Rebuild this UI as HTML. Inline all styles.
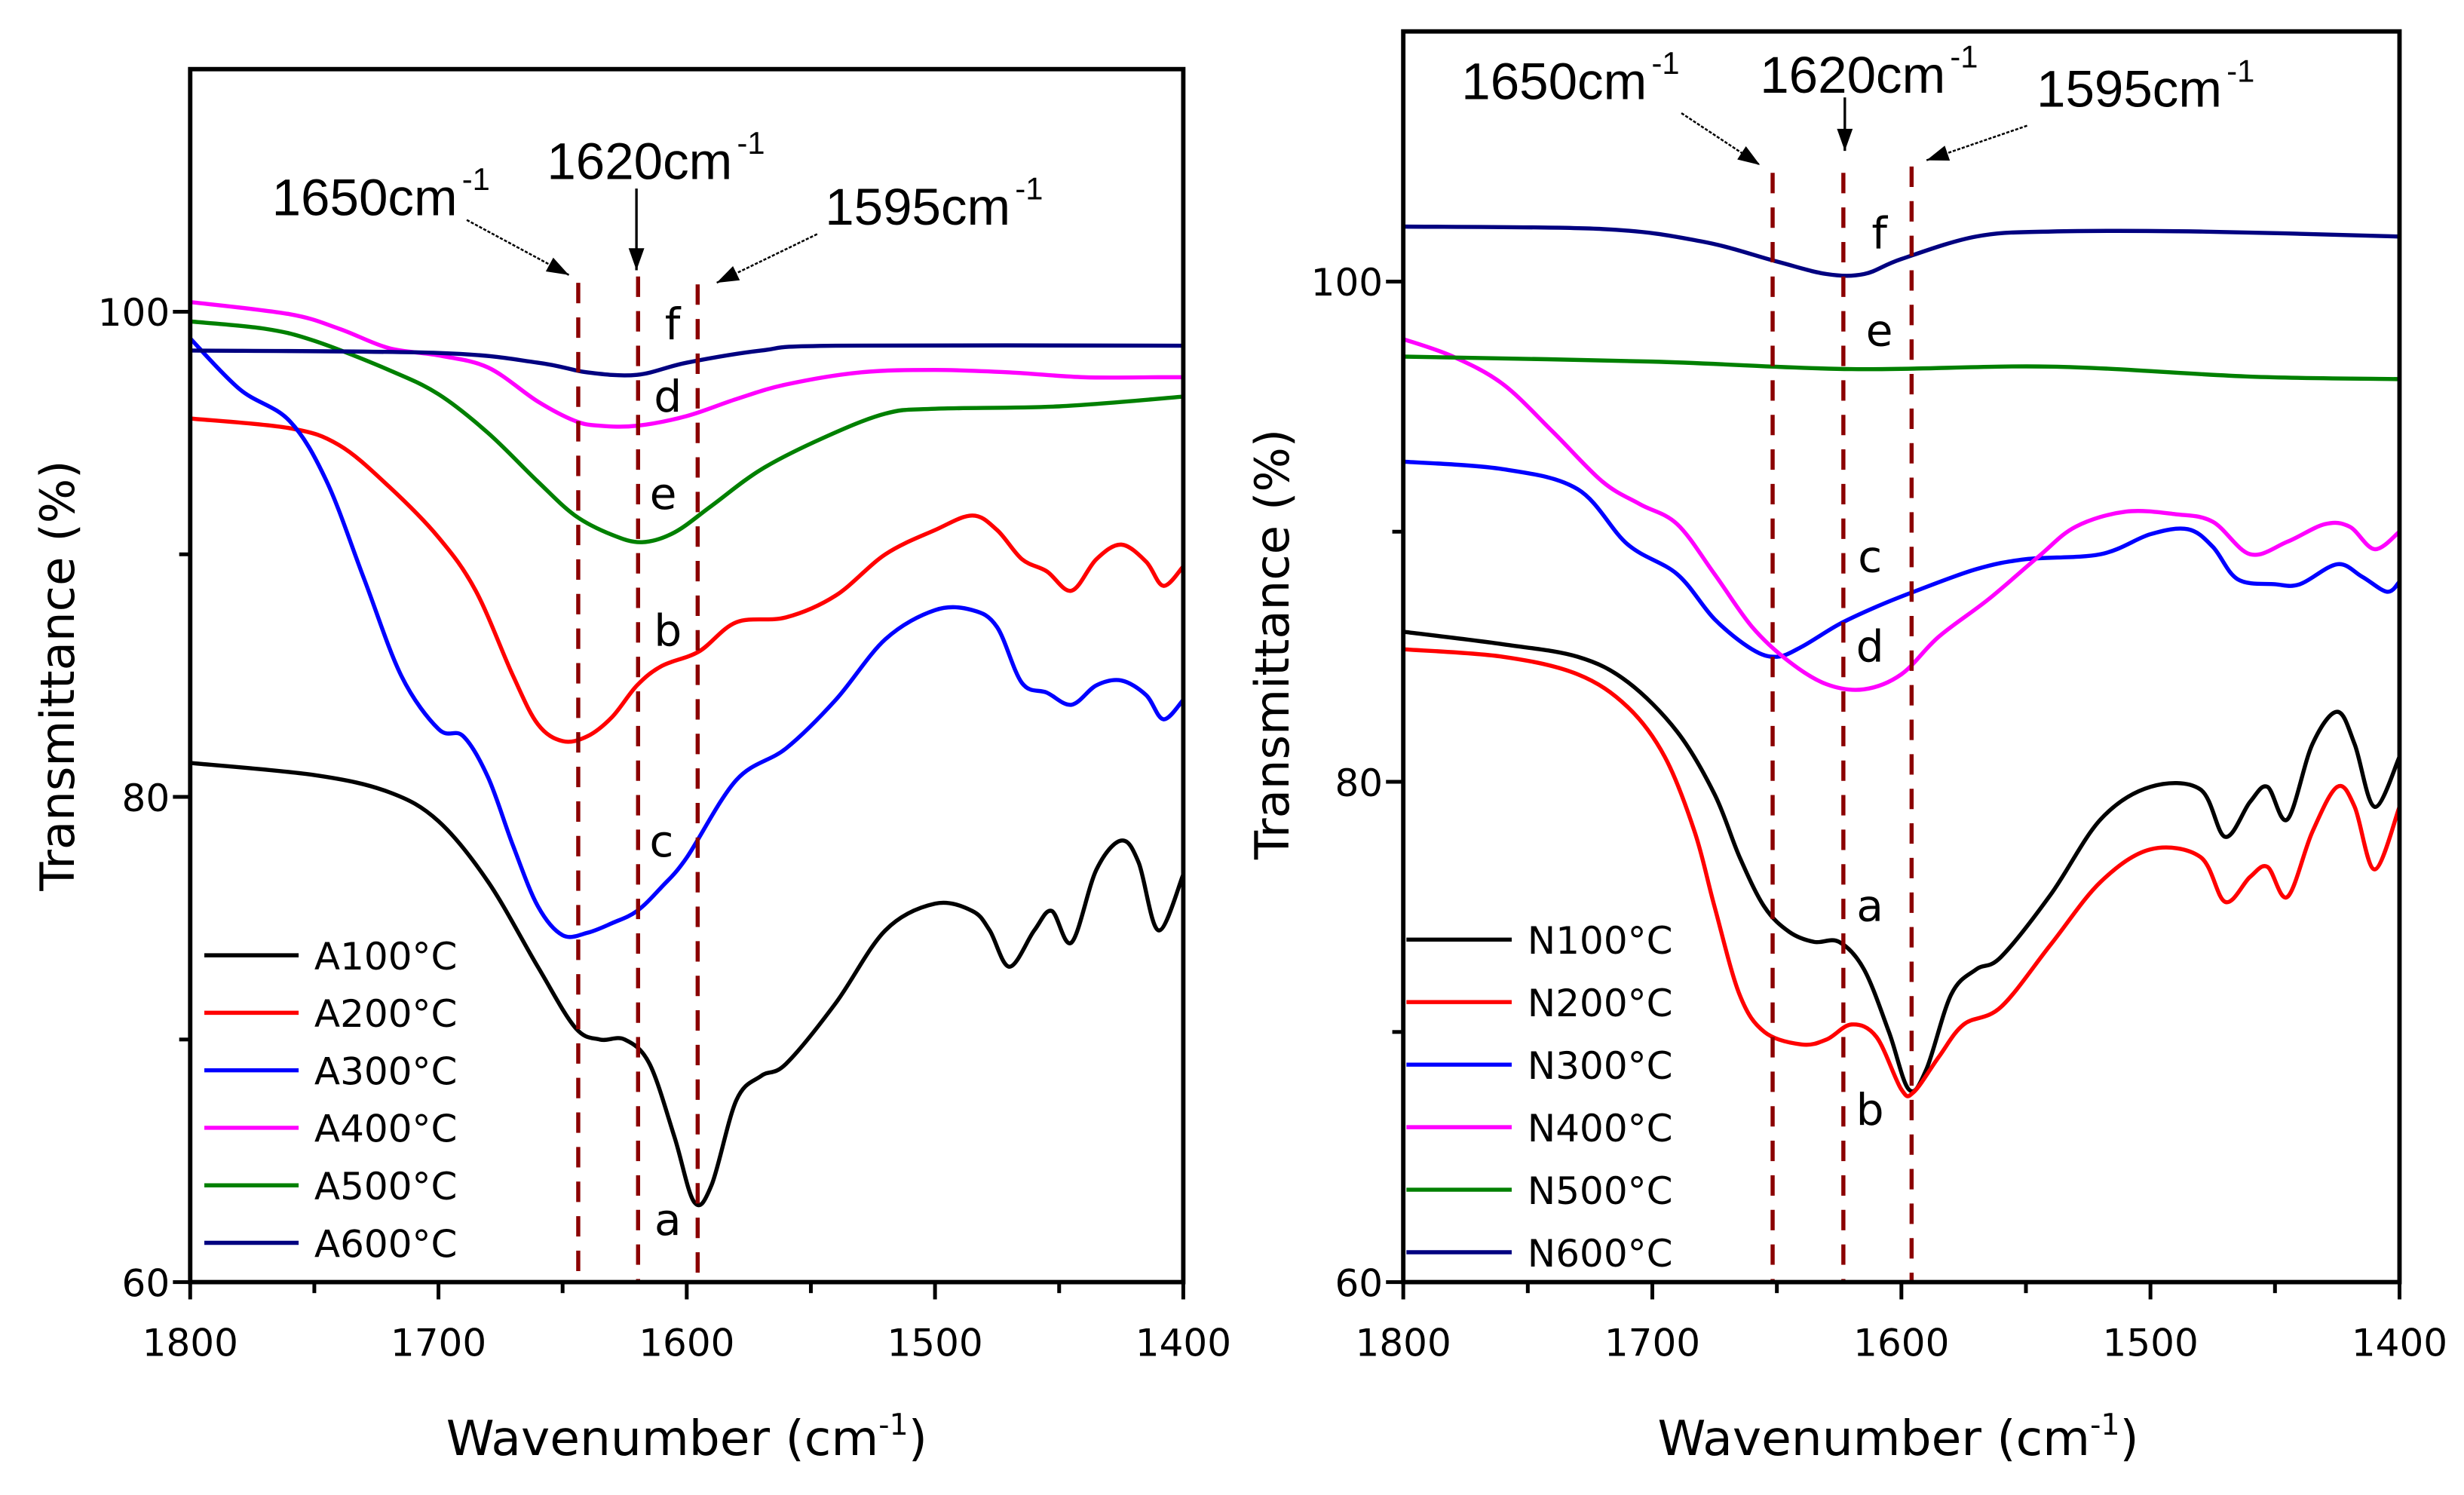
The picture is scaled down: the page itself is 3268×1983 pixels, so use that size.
<!DOCTYPE html>
<html><head><meta charset="utf-8"><style>
html,body{margin:0;padding:0;background:#fff;}
svg{display:block;font-family:"DejaVu Sans","Liberation Sans",sans-serif;}
</style></head><body>
<svg id="chart" xmlns="http://www.w3.org/2000/svg" width="3268" height="1983" viewBox="0 0 1568 951.5">
<rect width="1568" height="951.5" fill="#fff"/>
</svg>
<script>
const xTicks = [1800, 1700, 1600, 1500, 1400];
const yTicks = [60, 80, 100];
const seriesColors = ['#000000', '#ff0000', '#0000ff', '#ff00ff', '#008000', '#000080'];

const aNames = ['A100°C','A200°C','A300°C','A400°C','A500°C','A600°C'];
const aX100 = [1800,1750,1720,1700,1680,1660,1645,1635,1625,1615,1605,1597,1590,1580,1570,1560,1540,1520,1500,1485,1478,1470,1460,1453,1445,1435,1425,1418,1410,1400];
const aY100 = [81.4,80.9,80.2,79,76.5,73,70.5,70.0,70,69,66,63.3,64,67.5,68.5,69,71.5,74.5,75.6,75.3,74.5,73,74.5,75.3,74,77,78.2,77.3,74.5,76.8];
const aX200 = [1800,1760,1740,1720,1700,1685,1670,1660,1650,1640,1630,1620,1610,1595,1580,1560,1540,1520,1500,1485,1475,1465,1455,1445,1435,1425,1415,1408,1400];
const aY200 = [95.6,95.2,94.5,92.8,90.7,88.5,85,83,82.3,82.5,83.3,84.6,85.4,86,87.2,87.4,88.3,90,91,91.6,91,89.8,89.3,88.5,89.8,90.4,89.7,88.7,89.5];
const aX300 = [1800,1780,1760,1745,1730,1715,1700,1690,1680,1670,1660,1650,1640,1630,1620,1610,1600,1580,1560,1540,1520,1500,1485,1475,1465,1455,1445,1435,1425,1415,1408,1400];
const aY300 = [98.9,96.8,95.5,93,89,85,82.8,82.5,80.8,78,75.5,74.3,74.4,74.8,75.3,76.3,77.5,80.7,82,84,86.5,87.7,87.7,87,84.7,84.3,83.8,84.6,84.8,84.2,83.2,84];
const aX400 = [1800,1760,1740,1720,1700,1680,1660,1645,1635,1620,1600,1580,1560,1530,1500,1470,1440,1410,1400];
const aY400 = [100.4,99.9,99.3,98.5,98.2,97.7,96.3,95.5,95.3,95.3,95.7,96.4,97,97.5,97.6,97.5,97.3,97.3,97.3];
const aX500 = [1800,1770,1750,1720,1700,1680,1660,1645,1630,1618,1605,1590,1570,1545,1520,1500,1450,1400];
const aY500 = [99.6,99.3,98.8,97.6,96.6,95,93,91.6,90.8,90.5,90.9,92,93.5,94.8,95.8,96,96.1,96.5];
const aX600 = [1800,1700,1660,1640,1620,1600,1570,1540,1400];
const aY600 = [98.4,98.3,97.9,97.5,97.4,97.9,98.4,98.6,98.6];

const nNames = ['N100°C','N200°C','N300°C','N400°C','N500°C','N600°C'];
const nX100 = [1800,1760,1730,1710,1690,1675,1665,1655,1645,1635,1625,1615,1605,1597,1590,1580,1570,1560,1540,1520,1500,1480,1470,1460,1453,1445,1435,1425,1418,1410,1400];
const nY100 = [86.0,85.5,85.0,84,82,79.5,77,75,74,73.6,73.6,72.5,70,67.7,68.5,71.5,72.5,73,75.5,78.5,79.8,79.7,77.8,79.2,79.8,78.5,81.5,82.8,81.5,79,81];
const nX200 = [1800,1760,1730,1710,1695,1683,1675,1665,1655,1640,1630,1620,1610,1600,1595,1585,1575,1560,1540,1520,1500,1480,1470,1460,1453,1445,1435,1425,1418,1410,1400];
const nY200 = [85.3,85,84.3,83,81,78,75,71.5,70,69.5,69.7,70.3,69.8,67.7,67.6,69,70.3,71,73.5,76,77.3,77,75.2,76.2,76.6,75.4,78,79.8,79,76.5,79];
const nX300 = [1800,1760,1730,1710,1690,1675,1660,1650,1640,1625,1610,1595,1570,1550,1520,1500,1485,1475,1465,1450,1440,1425,1415,1405,1400];
const nY300 = [92.8,92.5,91.7,89.5,88.3,86.5,85.3,85.0,85.4,86.3,87,87.6,88.5,88.9,89.1,89.9,90.1,89.4,88.1,87.9,87.9,88.7,88.2,87.6,88];
const nX400 = [1800,1780,1760,1740,1720,1705,1690,1675,1660,1645,1630,1615,1600,1585,1565,1545,1530,1510,1490,1475,1460,1445,1430,1420,1410,1400];
const nY400 = [97.7,97,95.9,94,92,91.1,90.3,88.3,86.2,84.8,83.9,83.7,84.3,85.8,87.3,89,90.2,90.8,90.7,90.4,89.1,89.6,90.3,90.2,89.3,90];
const nX500 = [1800,1700,1620,1540,1460,1400];
const nY500 = [97.0,96.8,96.5,96.6,96.2,96.1];
const nX600 = [1800,1720,1680,1650,1630,1615,1600,1570,1540,1480,1400];
const nY600 = [102.2,102.1,101.6,100.8,100.3,100.3,100.9,101.8,102.0,102.0,101.8];

const aMarkers = [1643.7, 1619.6, 1595.6];
const nMarkers = [1651.7, 1623.3, 1595.9];
const markerLabels = ['1650cm', '1620cm', '1595cm'];

const NS = 'http://www.w3.org/2000/svg';
const svg = document.getElementById('chart');
function mk(tag, attrs, parent) {
  const e = document.createElementNS(NS, tag);
  for (const k in attrs) e.setAttribute(k, attrs[k]);
  (parent || svg).appendChild(e);
  return e;
}
function smooth(pts) {
  let d = 'M' + pts[0][0].toFixed(2) + ',' + pts[0][1].toFixed(2);
  for (let i = 0; i < pts.length - 1; i++) {
    const p0 = pts[i - 1] || pts[i], p1 = pts[i], p2 = pts[i + 1], p3 = pts[i + 2] || p2;
    const c1x = p1[0] + (p2[0] - p0[0]) / 6, c1y = p1[1] + (p2[1] - p0[1]) / 6;
    const c2x = p2[0] - (p3[0] - p1[0]) / 6, c2y = p2[1] - (p3[1] - p1[1]) / 6;
    d += 'C' + c1x.toFixed(2) + ',' + c1y.toFixed(2) + ' ' + c2x.toFixed(2) + ',' + c2y.toFixed(2) + ' ' + p2[0].toFixed(2) + ',' + p2[1].toFixed(2);
  }
  return d;
}

function panel(cfg) {
  const g = mk('g', {});
  
  
  const sx = v => cfg.x0 + (1800 - v) / 400 * (cfg.x1 - cfg.x0);
  const sy = v => cfg.yb - (v - 60) / 50 * (cfg.yb - cfg.yt);
  cfg.xs.forEach((xs, i) => {
    const pts = xs.map((x, j) => [sx(x), sy(cfg.ys[i][j])]);
    const p = mk('path', {d: smooth(pts), fill: 'none', stroke: seriesColors[i], 'stroke-width': 2.6}, g);
    
    
  });
  cfg.markers.forEach((m, i) => {
    const l = mk('line', {x1: sx(m), x2: sx(m), y1: cfg.dashTop[i], y2: cfg.yb, stroke: '#8b0000', 'stroke-width': 2.6, 'stroke-dasharray': '13,9'}, g);
    
    
  });
  const fr = mk('rect', {x: cfg.x0, y: cfg.yt, width: cfg.x1 - cfg.x0, height: cfg.yb - cfg.yt, fill: 'none', stroke: '#000', 'stroke-width': 2.8}, g);
  
  
  for (let v = 1800; v >= 1400; v -= 50) {
    const major = v % 100 === 0;
    mk('line', {x1: sx(v), x2: sx(v), y1: cfg.yb, y2: cfg.yb + (major ? 11 : 7), stroke: '#000', 'stroke-width': 2.4}, g);
  }
  xTicks.forEach(v => {
    const t = mk('text', {x: sx(v), y: cfg.yb + 47, 'font-size': 24, 'text-anchor': 'middle', fill: '#000'}, g);
    t.textContent = v;
    
    
  });
  for (let v = 60; v <= 100; v += 10) {
    mk('line', {x1: cfg.x0, x2: cfg.x0 - (v % 20 === 0 ? 11 : 7), y1: sy(v), y2: sy(v), stroke: '#000', 'stroke-width': 2.4}, g);
  }
  yTicks.forEach(v => {
    const t = mk('text', {x: cfg.x0 - 13, y: sy(v) + 9, 'font-size': 24, 'text-anchor': 'end', fill: '#000'}, g);
    t.textContent = v;
    
    
  });
  const yt = mk('text', {x: 0, y: 0, 'font-size': 30, 'text-anchor': 'middle', transform: 'translate(' + cfg.ytx + ',' + cfg.yty + ') rotate(-90)'}, g);
  yt.textContent = 'Transmittance (%)';
  
  
  const xt = mk('text', {x: cfg.xtx, y: 926, 'font-size': 31, 'text-anchor': 'middle'}, g);
  xt.innerHTML = 'Wavenumber (cm<tspan dy="-13" font-size="19">-1</tspan><tspan dy="13">)</tspan>';
  
  
  cfg.ann.forEach((a, i) => {
    const t = mk('text', {x: a[0], y: a[1], 'font-size': 33, fill: '#000', textLength: 118, lengthAdjust: 'spacingAndGlyphs', 'font-family': 'Liberation Sans, sans-serif'}, g);
    t.textContent = markerLabels[i];
    
    
    const s = mk('text', {x: a[0] + 121, y: a[1] - 16, 'font-size': 20, 'font-family': 'Liberation Sans, sans-serif'}, g);
    s.textContent = '-1';
    const ar = cfg.arrows[i];
    mk('line', {x1: ar[0], y1: ar[1], x2: ar[2], y2: ar[3], stroke: '#000', 'stroke-width': i === 1 ? 1.6 : 1.2, 'stroke-dasharray': i === 1 ? '' : '2,1'}, g);
    const ang = Math.atan2(ar[3] - ar[1], ar[2] - ar[0]);
    const L = 14, W = 5;
    const bx = ar[2] - L * Math.cos(ang), by = ar[3] - L * Math.sin(ang);
    const px = -Math.sin(ang) * W, py = Math.cos(ang) * W;
    mk('polygon', {points: ar[2] + ',' + ar[3] + ' ' + (bx + px) + ',' + (by + py) + ' ' + (bx - px) + ',' + (by - py), fill: '#000'}, g);
  });
  cfg.letters.forEach(l => {
    const t = mk('text', {x: l[1], y: l[2], 'font-size': 28, 'text-anchor': 'middle'}, g);
    t.textContent = l[0];
    
    
  });
  const lg = mk('g', {}, g);
  
  
  cfg.names.forEach((n, i) => {
    const y = cfg.legY0 + i * cfg.legDy;
    mk('line', {x1: cfg.legX, x2: cfg.legX + cfg.legLen, y1: y, y2: y, stroke: seriesColors[i], 'stroke-width': 2.6}, lg);
    const t = mk('text', {x: cfg.legX + cfg.legLen + 10, y: y + 9, 'font-size': 24}, lg);
    t.textContent = n;
    
    
  });
}

panel({id: 'panel-a', x0: 121, x1: 753, yt: 44, yb: 816, names: aNames,
  xs: [aX100, aX200, aX300, aX400, aX500, aX600], ys: [aY100, aY200, aY300, aY400, aY500, aY600],
  markers: aMarkers, dashTop: [180, 176, 181], ytx: 47, yty: 430, xtx: 437,
  ann: [[173, 137], [348, 114], [525, 143]],
  arrows: [[297, 140, 362, 175], [405, 120, 405, 172], [520, 149, 456, 180]],
  letters: [['f', 428, 216], ['d', 425, 262], ['e', 422, 324], ['b', 425, 411], ['c', 421, 545], ['a', 425, 786]],
  legX: 130, legLen: 60, legY0: 608, legDy: 36.6});

panel({id: 'panel-n', x0: 893, x1: 1527, yt: 20, yb: 816, names: nNames,
  xs: [nX100, nX200, nX300, nX400, nX500, nX600], ys: [nY100, nY200, nY300, nY400, nY500, nY600],
  markers: nMarkers, dashTop: [110, 110, 106], ytx: 820, yty: 410, xtx: 1208,
  ann: [[930, 63], [1120, 59], [1296, 68]],
  arrows: [[1070, 72, 1120, 105], [1174, 62, 1174, 96], [1290, 80, 1226, 102]],
  letters: [['f', 1196, 158], ['e', 1196, 220], ['c', 1190, 364], ['d', 1190, 421], ['a', 1190, 586], ['b', 1190, 716]],
  legX: 895, legLen: 67, legY0: 598, legDy: 39.8});
</script>
</body></html>
